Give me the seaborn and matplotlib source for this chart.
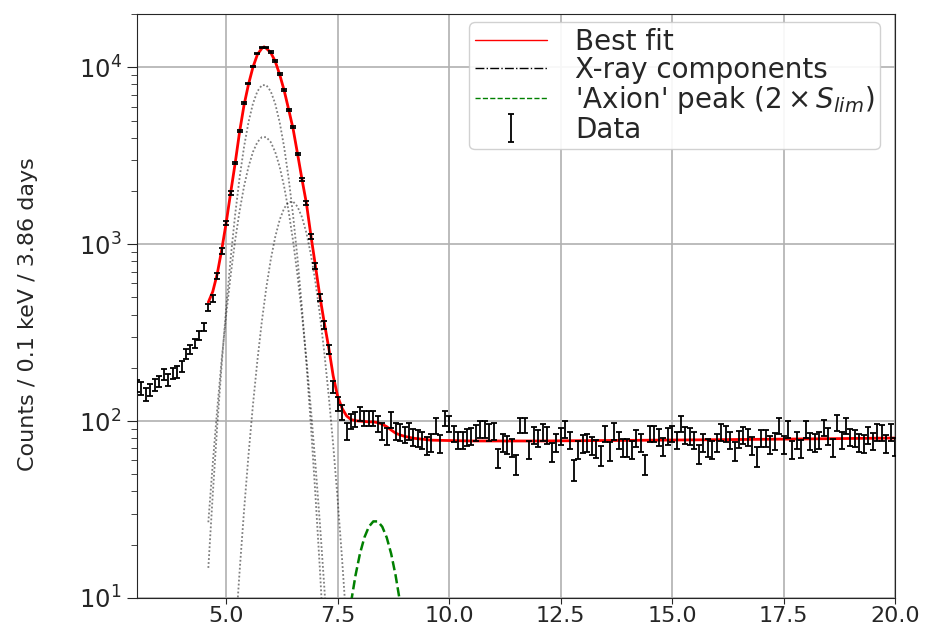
import numpy as np
import matplotlib
matplotlib.use("Agg")
import matplotlib.pyplot as plt
from matplotlib.lines import Line2D
from matplotlib.ticker import MultipleLocator, FormatStrFormatter
import seaborn as sns

# measured spectrum, 0.1 keV bins from 3.0 to 20.0 keV
energy = np.arange(30, 201) / 10
counts = [
    158, 153, 142, 150, 160, 168, 184, 171, 186, 190,          # 3.0 - 3.9
    205, 240, 254, 275, 305, 341, 440, 491, 664, 916,          # 4.0 - 4.9
    1312, 1950, 2877, 4365, 6250, 8090, 10130, 11940, 12900, 12900,  # 5.0 - 5.9
    12190, 10840, 9140, 7430, 5730, 4580, 3235, 2318, 1714, 1105,    # 6.0 - 6.9
    755, 501, 351, 254, 157, 125, 112, 88, 100, 103,           # 7.0 - 7.9
    110, 104, 104, 104, 97, 88, 82, 102, 88, 87,               # 8.0 - 8.9
    84, 88, 81, 80, 78, 73, 76, 94, 75, 104,                   # 9.0 - 9.9
    97, 85, 78, 78, 81, 82, 86, 90, 90, 87,                    # 10.0 - 10.9
    88, 62, 76, 74, 71, 57, 95, 95, 69, 83,                    # 11.0 - 11.9
    80, 87, 83, 67, 76, 82, 90, 78, 53, 69,                    # 12.0 - 12.9
    75, 76, 73, 70, 64, 85, 68, 88, 78, 71,                    # 13.0 - 13.9
    71, 69, 80, 76, 57, 85, 85, 81, 72, 82,                    # 14.0 - 14.9
    85, 78, 97, 83, 82, 78, 65, 76, 71, 69,                    # 15.0 - 15.9
    76, 87, 85, 78, 68, 79, 83, 81, 73, 63,                    # 16.0 - 16.9
    80, 80, 74, 77, 94, 74, 90, 69, 78, 70,                    # 17.0 - 17.9
    90, 77, 76, 78, 92, 82, 71, 98, 78, 94,                    # 18.0 - 18.9
    81, 80, 76, 75, 83, 77, 87, 86, 75, 87,                    # 19.0 - 19.9
    72,                                                        # 20.0
]
count_err = np.sqrt(counts)

# best fit curve
fit_energy = [4.6, 4.7, 4.8, 4.9, 5.0, 5.1, 5.2, 5.3, 5.4, 5.5,
              5.6, 5.7, 5.8, 5.85, 5.9, 6.0, 6.1, 6.2, 6.3, 6.4, 6.5,
              6.6, 6.7, 6.8, 6.9, 7.0, 7.1, 7.2, 7.3, 7.4, 7.5,
              7.6, 7.7, 7.8, 7.9, 8.0, 8.1, 8.2, 8.3, 8.4, 8.5,
              8.6, 8.7, 8.8, 8.9, 9.0, 9.1, 9.2, 9.3, 9.4, 9.5,
              9.6, 10.5, 12.0, 14.0, 16.0, 18.0, 20.0]
fit_counts = [470, 540, 680, 930, 1320, 1950, 2850, 4300, 6100, 8000,
              10000, 11800, 12800, 13050, 12800, 12100, 10800, 9100, 7400, 5800, 4500,
              3250, 2330, 1700, 1120, 760, 510, 360, 260, 180, 138,
              118, 107, 102, 100.5, 100, 99.5, 99, 99, 98, 96,
              93, 89, 85.5, 83.5, 82, 81, 80, 79.5, 79, 78.5,
              78, 77.2, 77.2, 77.8, 78.5, 79.3, 80.2]

# X-ray components (three lines), sampled every 0.1 keV
comp_energy = np.arange(46, 79) / 10
comp_ka_narrow = [14.8, 38.8, 94.2, 211, 436, 830, 1459, 2366, 3540, 4887,
                  6223, 7311, 7925, 7925, 7311, 6223, 4887, 3540, 2366, 1459,
                  830, 436, 211, 94.2, 38.8, 14.8, 5.18, 1.67, 0.5, 0.14,
                  0.035, 0.008, 0.002]
comp_ka_wide = [26.8, 57.9, 117.5, 223, 398, 665, 1045, 1535, 2118, 2735,
                3319, 3776, 4027, 4027, 3776, 3319, 2735, 2118, 1535, 1045,
                665, 398, 223, 117.5, 57.9, 26.8, 11.6, 4.73, 1.81, 0.65,
                0.22, 0.068, 0.02]
comp_kb = [0.007, 0.026, 0.089, 0.28, 0.84, 2.30, 5.89, 14.0, 31.0, 64.1,
           123, 220, 366, 568, 819, 1099, 1374, 1596, 1726, 1742,
           1630, 1422, 1156, 873, 615, 403, 245, 139, 73.5, 36.1,
           16.5, 7.03, 2.79]

# 'axion' peak at 2 x S_lim
axion_energy = [7.8, 7.9, 8.0, 8.1, 8.2, 8.3, 8.4, 8.5, 8.6, 8.7, 8.8, 8.9]
axion_counts = [9.44, 13.4, 17.8, 22.0, 25.3, 27.1, 27.1, 25.3, 22.0, 17.8, 13.4, 9.44]

sns.set_style("ticks")
plt.rcParams['font.family'] = ['DejaVu Sans']

fig = plt.figure(figsize=(9.3, 6.32), dpi=100)
ax = fig.add_axes([0.1473, 0.0538, 0.8151, 0.924])
ax.set_yscale("log")

for comp in [comp_ka_narrow, comp_ka_wide, comp_kb]:
    sns.lineplot(x=comp_energy, y=comp, ax=ax, color="k", alpha=0.5,
                 linestyle=(0, (1, 1.2)), linewidth=1.3, legend=False)

sns.lineplot(x=fit_energy, y=fit_counts, ax=ax, color="red",
             linewidth=2, legend=False)
sns.lineplot(x=axion_energy, y=axion_counts, ax=ax, color="green",
             linestyle="--", linewidth=1.8, legend=False)

data_h = ax.errorbar(energy, counts, yerr=count_err, fmt="none",
                     ecolor="k", elinewidth=1.3, capsize=2.2, capthick=1.3,
                     zorder=3)

ax.set_xlim(3, 20)
ax.set_ylim(10, 2e4)
ax.xaxis.set_major_locator(MultipleLocator(2.5))
ax.xaxis.set_major_formatter(FormatStrFormatter("%.1f"))
ax.grid(True, which="major", color="#b0b0b0", linewidth=1.2)
ax.tick_params(axis="x", which="major", labelsize=16, length=4.5, pad=1)
ax.tick_params(axis="y", which="major", labelsize=17.5, length=7.5)
ax.tick_params(axis="y", which="minor", length=4.5)

ax.set_ylabel("Counts / 0.1 keV / 3.86 days", fontsize=16)
ax.yaxis.set_label_coords(-0.131, 0.486)
ax.set_xlabel("")

handles = [
    Line2D([], [], color="red", linewidth=1),
    Line2D([], [], color="k", linestyle="-.", linewidth=1),
    Line2D([], [], color="green", linestyle="--", linewidth=1),
    data_h,
]
labels = ["Best fit", "X-ray components",
          "'Axion' peak ($2\\times S_{lim}$)", "Data"]
ax.legend(handles, labels, loc="upper right", bbox_to_anchor=(0.980, 0.986),
          borderaxespad=0, fontsize=20, labelspacing=0.0, handlelength=2.6,
          handletextpad=1.0, borderpad=0.2,
          framealpha=0.9, edgecolor="#cccccc", fancybox=True)

fig.savefig("out.png", dpi=100)
